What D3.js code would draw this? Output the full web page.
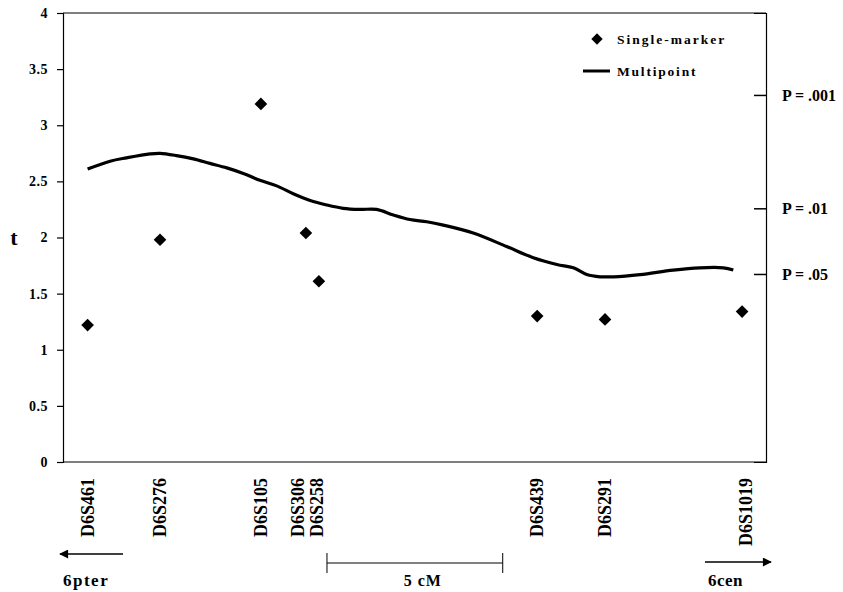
<!DOCTYPE html>
<html><head><meta charset="utf-8">
<script src="https://cdn.jsdelivr.net/npm/d3@7"></script>
<style>
html,body{margin:0;padding:0;background:#fff;}
svg{display:block;}
text{font-family:"Liberation Serif","Times New Roman",serif;font-weight:bold;fill:#000;}
</style></head>
<body>
<script>
// ---- data ----
const markers = ["D6S461","D6S276","D6S105","D6S306","D6S258","D6S439","D6S291","D6S1019"];
const markerPos = [0, 2.06, 4.93, 6.21, 6.58, 12.79, 14.72, 18.62]; // cM
const singleT = [1.22, 1.98, 3.19, 2.04, 1.61, 1.30, 1.27, 1.34];
const multiPos = [0.0, 0.64, 1.11, 1.78, 2.06, 2.53, 3.01, 3.48, 3.96, 4.43, 4.90, 5.38, 5.85, 6.33, 6.80, 7.27, 7.75, 8.22, 8.70, 9.17, 9.65, 10.12, 10.97, 11.92, 12.68, 13.35, 13.82, 14.20, 14.58, 14.96, 15.72, 16.66, 17.42, 18.09, 18.37];
const multiT = [2.61, 2.68, 2.71, 2.745, 2.75, 2.73, 2.70, 2.66, 2.62, 2.57, 2.51, 2.46, 2.39, 2.33, 2.29, 2.26, 2.25, 2.25, 2.20, 2.16, 2.14, 2.11, 2.04, 1.92, 1.82, 1.76, 1.73, 1.67, 1.65, 1.65, 1.67, 1.71, 1.73, 1.73, 1.71];
const yTicks = [0, 0.5, 1, 1.5, 2, 2.5, 3, 3.5, 4];
const yTickLabels = ["0", "0.5", "1", "1.5", "2", "2.5", "3", "3.5", "4"];
const pLabels = ["P = .001", "P = .01", "P = .05"];
const pT = [3.27, 2.26, 1.675];
const scaleBarStart = 6.81, scaleBarLen = 5;
const legendLabels = ["Single-marker", "Multipoint"];

// ---- layout ----
const W = 843, H = 592;
const L = 63, R = 766, T = 13, B = 462;
const svg = d3.select("body").append("svg").attr("width", W).attr("height", H);

const x = d3.scaleLinear().domain([-0.7, 19.3]).range([L, R]);
const y = d3.scaleLinear().domain([0, 4]).range([B, T]);

// frame
svg.append("line").attr("x1", L).attr("x2", R).attr("y1", T).attr("y2", T).attr("stroke", "#000").attr("stroke-width", 1.2);
svg.append("line").attr("x1", L).attr("x2", R).attr("y1", B).attr("y2", B).attr("stroke", "#000").attr("stroke-width", 1.2);

// left axis
const yAxis = d3.axisLeft(y).tickValues(yTicks).tickSize(6).tickPadding(9)
  .tickFormat((d, i) => yTickLabels[i]);
const gy = svg.append("g").attr("transform", `translate(${L},0)`).call(yAxis);
gy.select(".domain").attr("stroke", "#000").attr("stroke-width", 1.2);
gy.selectAll(".tick line").attr("stroke", "#000").attr("stroke-width", 1.2);
gy.selectAll(".tick text").style("font-size", "14px").style("letter-spacing", "0.5px")
  .style("font-family", "'Liberation Serif',serif").style("font-weight", "bold");

// right P axis
const yR = d3.axisRight(y).tickValues(pT).tickSize(-12).tickPadding(16)
  .tickFormat((d, i) => pLabels[i]);
const gr = svg.append("g").attr("transform", `translate(${R},0)`).call(yR);
gr.select(".domain").attr("stroke", "#000").attr("stroke-width", 1.2);
gr.selectAll(".tick line").attr("stroke", "#000").attr("stroke-width", 1.5);
gr.selectAll(".tick text").style("font-size", "16px")
  .style("font-family", "'Liberation Serif',serif").style("font-weight", "bold");

// y label
svg.append("text").attr("x", 14).attr("y", y(2)).attr("dy", "0.35em")
  .attr("text-anchor", "middle").style("font-size", "22px").text("t");

// multipoint line
const line = d3.line().x(d => x(d[0])).y(d => y(d[1])).curve(d3.curveCatmullRom);
svg.append("path").datum(multiPos.map((p, i) => [p, multiT[i]]))
  .attr("d", line).attr("fill", "none").attr("stroke", "#000").attr("stroke-width", 3.2);

// diamonds
const diamond = d3.symbol().type(d3.symbolSquare).size(80);
svg.selectAll(".dm").data(markers).join("path").attr("class", "dm")
  .attr("d", diamond)
  .attr("transform", (d, i) => `translate(${x(markerPos[i])},${y(singleT[i])}) rotate(45)`)
  .attr("fill", "#000");

// marker labels
const nudge = {D6S306: -8, D6S258: -2, D6S1019: 4};
svg.selectAll(".ml").data(markers).join("text").attr("class", "ml")
  .attr("transform", (d, i) => `translate(${x(markerPos[i]) + (nudge[d] || 0)},478) rotate(-90)`)
  .attr("dy", "0.35em").attr("text-anchor", "end")
  .style("font-size", "18px").text(d => d);

// legend
svg.append("path").attr("d", d3.symbol().type(d3.symbolSquare).size(64))
  .attr("transform", "translate(597,39) rotate(45)").attr("fill", "#000");
svg.append("line").attr("x1", 583).attr("x2", 610).attr("y1", 71).attr("y2", 71)
  .attr("stroke", "#000").attr("stroke-width", 3);
svg.append("text").attr("x", 617).attr("y", 44).style("font-size", "13.5px").style("letter-spacing", "2px").text(legendLabels[0]);
svg.append("text").attr("x", 617).attr("y", 76).style("font-size", "13.5px").style("letter-spacing", "1.8px").text(legendLabels[1]);

// bottom annotations
const defs = svg.append("defs");
defs.append("marker").attr("id", "ah").attr("viewBox", "0 0 10 10").attr("refX", 9).attr("refY", 5)
  .attr("markerWidth", 13).attr("markerHeight", 9).attr("markerUnits", "userSpaceOnUse").attr("orient", "auto")
  .append("path").attr("d", "M0,0L10,5L0,10Z").attr("fill", "#000");

svg.append("line").attr("x1", 123).attr("x2", 60).attr("y1", 554).attr("y2", 554)
  .attr("stroke", "#000").attr("stroke-width", 1.3).attr("marker-end", "url(#ah)");
svg.append("text").attr("x", 63).attr("y", 586).style("font-size", "17px").style("letter-spacing", "1.5px").text("6pter");

svg.append("line").attr("x1", 705).attr("x2", 771).attr("y1", 562).attr("y2", 562)
  .attr("stroke", "#000").attr("stroke-width", 1.3).attr("marker-end", "url(#ah)");
svg.append("text").attr("x", 708).attr("y", 586).style("font-size", "17px").style("letter-spacing", "0.5px").text("6cen");

// scale bar
const sb0 = x(scaleBarStart), sb1 = x(scaleBarStart + scaleBarLen);
const gsb = svg.append("g").attr("stroke", "#000").attr("stroke-width", 1);
gsb.append("line").attr("x1", sb0).attr("x2", sb1).attr("y1", 563).attr("y2", 563);
gsb.append("line").attr("x1", sb0).attr("x2", sb0).attr("y1", 553).attr("y2", 573);
gsb.append("line").attr("x1", sb1).attr("x2", sb1).attr("y1", 553).attr("y2", 573);
svg.append("text").attr("x", (sb0 + sb1) / 2 + 8).attr("y", 586).attr("text-anchor", "middle")
  .style("font-size", "16px").style("letter-spacing", "1px").text("5 cM");
</script>
</body></html>
